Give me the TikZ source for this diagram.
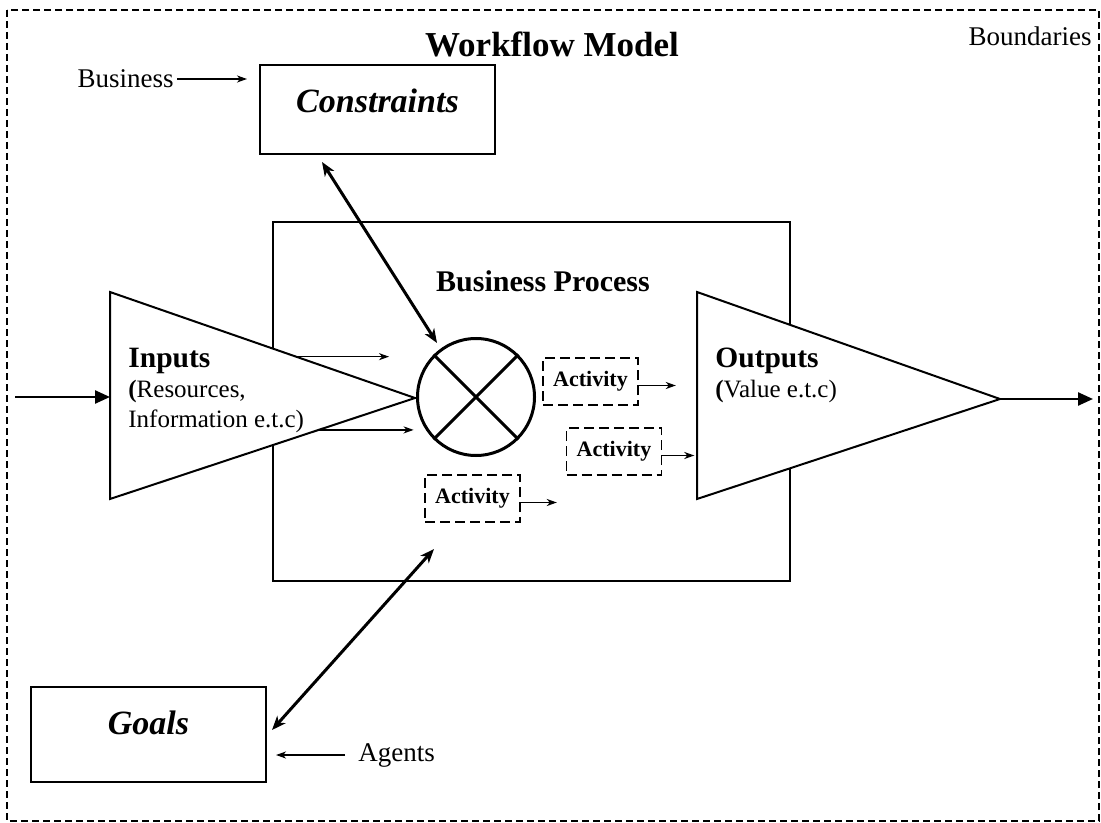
\documentclass[tikz,border=0pt]{standalone}
\usepackage{fontspec}
\setmainfont{Liberation Serif}
\usetikzlibrary{arrows.meta, calc}
\tikzset{
	boundary/.style={draw, line width=0.6pt, dash pattern=on 3.5pt off 2pt},
	plainbox/.style={rectangle, draw, line width=1pt, minimum width=117.5pt, minimum height=44.5pt},
	procbox/.style={rectangle, draw, line width=1pt, minimum width=258.5pt, minimum height=179.5pt},
	actbox/.style={rectangle, draw, line width=0.8pt, dash pattern=on 5pt off 2.5pt, minimum width=47.5pt, minimum height=23.5pt, inner sep=0pt, font=\fontsize{11pt}{13pt}\selectfont\bfseries},
	joiner/.style={circle, draw, line width=1.5pt, minimum size=58.5pt, inner sep=0pt},
	funnel/.style={draw, fill=white, line width=1pt, line join=miter},
	headline/.style={inner sep=0pt, font=\fontsize{17.5pt}{20pt}\selectfont\bfseries},
	proclabel/.style={inner sep=0pt, font=\fontsize{15pt}{18pt}\selectfont\bfseries},
	boxtitle/.style={inner sep=0pt, font=\fontsize{17pt}{20pt}\selectfont\bfseries\itshape},
	plaintext/.style={inner sep=0pt, font=\fontsize{13.5pt}{16pt}\selectfont},
	sidelabel/.style={inner sep=0pt, align=left, font=\fontsize{12.5pt}{15pt}\selectfont},
	bigarrow/.style={-{Triangle[length=7.5pt, width=6.5pt]}, line width=1.2pt},
	thinarrow/.style={-{Stealth[length=5pt, width=3.5pt, inset=1.5pt]}, line width=0.8pt},
	twoway/.style={{Stealth[length=7pt, width=5.5pt, inset=2pt]}-{Stealth[length=7pt, width=5.5pt, inset=2pt]}, line width=1.5pt},
}
\newcommand{\sidehead}[1]{{\fontsize{14.75pt}{15pt}\selectfont\bfseries #1}}

\begin{document}
\begin{tikzpicture}[x=0.5pt, y=-0.5pt]
	\useasboundingbox (0,0) rectangle (1101,823);
	\draw[boundary] (7,10) rectangle (1099,821);
	\node[headline] (title) at (552,44) {Workflow Model};
	\node[plaintext, anchor=base east] (bounds) at (1092,46) {Boundaries};

	% constraints on top
	\node[plainbox] (constraints) at (377.5,109.5) {};
	\node[boxtitle, anchor=north] (ctext) at (377.5,89) {Constraints};
	\node[plaintext, anchor=east] (business) at (174,79) {Business};
	\draw[thinarrow, shorten <=1.5pt, shorten >=6pt] (business.east) -- (constraints.west |- business.east);

	% the process
	\node[procbox] (process) at (531.5,401.5) {};
	\node[proclabel] (ptext) at (543,281) {Business Process};

	\coordinate (inTop) at (110,292);
	\coordinate (inBot) at (110,499);
	\coordinate (inTip) at (415,398);
	\draw[funnel] (inTop) -- (inTip) -- (inBot) -- cycle;
	\coordinate (outTop) at (697,292);
	\coordinate (outBot) at (697,499);
	\coordinate (outTip) at (1000,399);
	\draw[funnel] (outTop) -- (outTip) -- (outBot) -- cycle;

	\node[sidelabel, anchor=north west] (intext) at (128,348) {\sidehead{Inputs}\\\textbf{(}Resources,\\Information e.t.c)};
	\node[sidelabel, anchor=north west] (outtext) at (715,348) {\sidehead{Outputs}\\\textbf{(}Value e.t.c)};

	\node[joiner] (join) at (476,397) {};
	\draw[line width=1.5pt] (join.45) -- (join.225) (join.135) -- (join.315);

	\node[actbox] (act1) at (590.5,381.5) {Activity};
	\node[actbox] (act2) at (614,451.5) {Activity};
	\node[actbox] (act3) at (472.5,498.5) {Activity};

	\coordinate (source) at (15,397);
	\draw[bigarrow] (source) -- (source -| inTop);
	\draw[bigarrow] (outTip) -- ++(93,0);
	\draw[thinarrow] ($(inTop)!0.61!(inTip)$) -- ++(93,0);
	\draw[thinarrow] ($(inBot)!0.684!(inTip)$) -- ++(95,0);
	\draw[thinarrow] ([yshift=-2pt]act1.east) -- ++(37,0);
	\draw[thinarrow] ([yshift=-2pt]act2.east) -- ++(32,0);
	\draw[thinarrow] ([yshift=-2pt]act3.east) -- ++(36,0);

	% goals at the bottom
	\node[plainbox, minimum height=47.5pt] (goals) at (148.5,734.5) {};
	\node[boxtitle, anchor=north] (gtext) at (148.5,711) {Goals};
	\node[plaintext, anchor=west] (agents) at (358,755) {Agents};
	\draw[thinarrow, shorten <=6.5pt, shorten >=4.5pt] (agents.west) -- (goals.east |- agents.west);

	\coordinate (cEnd) at (322,162);
	\coordinate (jEnd) at (437,343);
	\draw[twoway] (cEnd) -- (jEnd);
	\coordinate (pEnd) at (434,549);
	\coordinate (gEnd) at (272,730);
	\draw[twoway] (pEnd) -- (gEnd);
\end{tikzpicture}
\end{document}
